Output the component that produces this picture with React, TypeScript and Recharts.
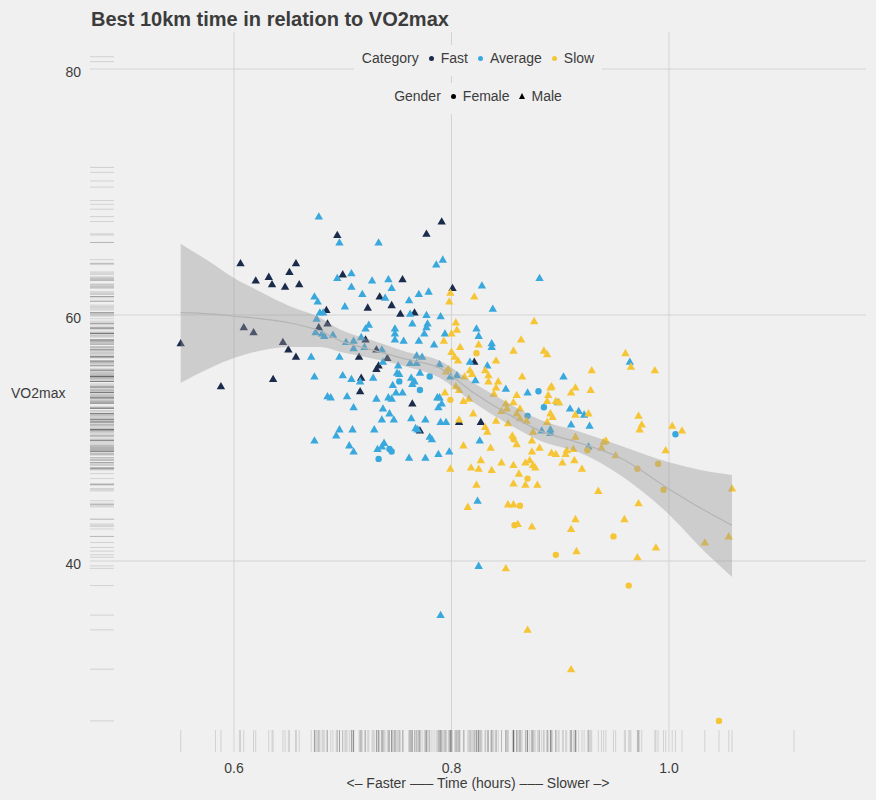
import { ComposedChart, Scatter, Area, Line, XAxis, YAxis, ReferenceLine } from "recharts";

// category / gender series: [time in hours, VO2max]
const fastMaleTime = [0.606, 0.657, 0.651, 0.620, 0.632, 0.635, 0.647, 0.660, 0.695, 0.700, 0.723, 0.685, 0.686, 0.678, 0.609, 0.618, 0.551, 0.645, 0.650, 0.657, 0.721, 0.715, 0.717, 0.636, 0.588, 0.716, 0.791, 0.777, 0.755, 0.734, 0.745, 0.801, 0.753, 0.766, 0.731, 0.741, 0.733, 0.731, 0.821, 0.764, 0.771, 0.807, 0.827];
const fastMaleVo2 = [64.2, 64.2, 63.5, 62.8, 63.1, 62.5, 62.3, 62.5, 66.5, 63.3, 60.6, 60.4, 59.3, 59.0, 59.0, 58.6, 57.7, 57.8, 57.2, 56.6, 58.0, 56.6, 54.9, 54.8, 54.2, 53.8, 67.6, 66.6, 62.9, 61.5, 60.8, 62.2, 60.1, 60.2, 57.2, 56.5, 55.9, 55.6, 56.2, 52.8, 50.6, 51.3, 51.3];

const avgMaleTime = [0.678, 0.697, 0.708, 0.695, 0.708, 0.718, 0.674, 0.677, 0.702, 0.679, 0.682, 0.676, 0.675, 0.681, 0.683, 0.691, 0.721, 0.724, 0.671, 0.697, 0.703, 0.710, 0.710, 0.717, 0.720, 0.674, 0.700, 0.708,
  0.686, 0.689, 0.704, 0.716, 0.710, 0.697, 0.709, 0.694, 0.674, 0.706, 0.710,
  0.733, 0.792, 0.786, 0.881, 0.727, 0.742, 0.745, 0.739, 0.761, 0.770, 0.779, 0.828, 0.838, 0.762, 0.777, 0.790, 0.764, 0.778, 0.777, 0.748, 0.748, 0.748, 0.775, 0.756, 0.770, 0.784, 0.794, 0.823, 0.825, 0.837, 0.837, 0.817, 0.833, 0.903, 0.736, 0.737, 0.768, 0.773, 0.762, 0.768, 0.751, 0.789, 0.750, 0.752, 0.771, 0.763, 0.728, 0.799, 0.805, 0.822,
  0.964, 0.746, 0.764, 0.766, 0.749, 0.755, 0.731, 0.742, 0.745, 0.787, 0.789, 0.791, 0.788, 0.737, 0.743, 0.736, 0.747, 0.763, 0.776, 0.790, 0.795, 0.729, 0.767, 0.769, 0.780, 0.782, 0.738, 0.736, 0.732, 0.761, 0.776, 0.788, 0.798, 0.826, 0.870, 0.850, 0.883, 0.891, 0.891, 0.824, 0.898,
  0.909, 0.917, 0.922, 0.927, 0.910, 0.926, 0.825, 0.790];
const avgMaleVo2 = [68.0, 65.9, 63.4, 63.0, 62.3, 61.7, 61.5, 61.1, 60.7, 60.2, 60.2, 59.7, 58.6, 58.5, 58.3, 58.4, 58.9, 59.2, 56.6, 56.6, 57.8, 57.9, 57.3, 58.2, 57.4, 55.0, 55.1, 54.8,
  53.4, 53.3, 53.4, 54.6, 52.5, 50.7, 50.7, 50.2, 49.8, 49.4, 48.9,
  65.9, 64.5, 64.1, 63.0, 62.8, 62.9, 62.2, 61.4, 61.2, 61.7, 61.9, 62.4, 60.5, 60.1, 60.0, 59.9, 59.3, 59.3, 59.0, 58.9, 58.5, 58.0, 58.5, 57.9, 57.9, 57.6, 58.5, 58.9, 58.3, 57.7, 57.4, 56.2, 55.9, 55.0, 57.2, 56.2, 56.7, 56.6, 56.1, 56.1, 55.9, 56.0, 55.3, 55.2, 55.3, 54.9, 54.9, 55.0, 55.1, 54.7,
  56.2, 54.3, 54.4, 54.6, 53.7, 53.7, 53.2, 53.3, 53.2, 53.3, 53.3, 52.8, 52.5, 52.4, 52.0, 51.5, 51.5, 51.6, 51.5, 51.3, 51.3, 50.7, 50.8, 50.7, 50.1, 49.9, 49.6, 49.3, 49.1, 48.4, 48.4, 48.7, 48.9, 49.8, 53.7, 54.0, 50.6, 50.7, 50.4, 44.9, 52.9,
  52.4, 52.2, 51.9, 51.0, 51.1, 49.3, 39.6, 35.6];

const avgFemaleTime = [0.752, 0.771, 0.743, 0.745, 0.733, 0.780, 0.880, 0.885, 0.870, 1.006];
const avgFemaleVo2 = [54.6, 53.9, 49.1, 48.9, 48.3, 55.0, 53.8, 52.5, 51.8, 50.3];

const slowMaleTime = [0.799, 0.798, 0.821, 0.876, 0.804, 0.805, 0.800, 0.793, 0.808, 0.825, 0.864, 0.857, 0.885, 0.888, 0.800, 0.803, 0.806, 0.841, 0.831, 0.834, 0.817, 0.819, 0.865, 0.795, 0.797, 0.812,
  0.960, 0.965, 0.929, 0.987,
  0.794, 0.804, 0.807, 0.811, 0.816, 0.820, 0.807, 0.831, 0.833, 0.834, 0.843, 0.841, 0.839, 0.850, 0.851, 0.857, 0.860, 0.863, 0.846, 0.860, 0.863, 0.869, 0.852, 0.841, 0.891, 0.892, 0.889, 0.888, 0.896, 0.899, 0.891, 0.893, 0.888, 0.875, 0.856, 0.874, 0.860, 0.881, 0.811, 0.836, 0.874, 0.892, 0.896, 0.905, 0.906, 0.902, 0.827, 0.799, 0.818, 0.825, 0.837, 0.846, 0.857, 0.868, 0.872, 0.875, 0.877, 0.862, 0.823, 0.857, 0.868, 0.879, 0.815, 0.852, 0.857, 0.861, 0.874,
  0.914, 0.910, 0.928, 0.914, 0.926, 0.972, 0.975, 0.973, 1.003, 1.012, 0.914, 0.912, 0.938, 0.940, 0.942, 0.951, 0.913, 0.920, 0.997, 1.058, 0.935, 0.972, 0.914, 0.910, 0.959, 1.055, 1.033, 0.915, 0.988, 0.971,
  0.850, 0.870, 0.910];
const slowMaleVo2 = [61.8, 61.1, 61.5, 59.5, 59.4, 58.8, 58.5, 57.9, 57.4, 57.6, 58.0, 57.1, 57.1, 56.8, 57.0, 56.6, 56.3, 56.3, 55.5, 55.1, 55.5, 55.2, 55.0, 55.4, 55.6, 55.0,
  56.9, 55.8, 55.5, 55.5,
  53.7, 54.2, 53.9, 53.0, 53.2, 52.0, 51.5, 50.9, 50.5, 54.6, 54.6, 54.1, 53.6, 52.8, 52.4, 52.9, 53.5, 52.4, 52.2, 52.0, 51.6, 51.4, 51.2, 51.4, 54.1, 54.2, 53.5, 53.0, 53.0, 52.9, 52.0, 51.7, 51.3, 50.5, 50.2, 49.8, 49.5, 49.2, 49.4, 49.2, 48.9, 48.8, 48.7, 48.7, 49.0, 48.0, 48.2, 47.5, 47.6, 47.5, 47.4, 48.0, 47.8, 48.0, 48.2, 47.8, 47.6, 47.1, 46.2, 46.3, 46.2, 46.2, 44.4, 44.6, 44.6, 43.0, 42.8,
  54.1, 53.7, 53.9, 51.9, 52.0, 51.8, 51.1, 50.7, 51.0, 50.6, 50.1, 49.1, 49.2, 49.7, 49.8, 48.6, 48.2, 47.5, 49.0, 45.9, 45.7, 44.7, 43.4, 42.6, 43.4, 42.0, 41.5, 40.8, 41.1, 40.3,
  39.4, 34.4, 31.2];

const slowFemaleTime = [0.823, 0.799, 0.857, 0.870, 0.863, 0.858, 0.896, 0.925, 0.990, 0.971, 0.995, 0.949, 0.963, 1.046];
const slowFemaleVo2 = [56.9, 53.1, 49.9, 46.7, 44.5, 42.9, 40.5, 49.0, 47.9, 47.5, 45.8, 42.0, 38.0, 27.0];

// loess fit with confidence band
const smoothTime = [0.551, 0.578, 0.6, 0.624, 0.652, 0.679, 0.698, 0.725, 0.759, 0.789, 0.82, 0.851, 0.881, 0.918, 0.955, 1.001, 1.029, 1.058];
const smoothFit = [60.2, 60.1, 59.9, 59.7, 59.35, 58.7, 57.9, 57.2, 56.4, 55.7, 53.7, 52.0, 50.6, 49.6, 48.4, 45.8, 44.3, 42.9];
const smoothLow = [54.5, 55.7, 56.5, 57.1, 57.4, 57.4, 57.0, 56.5, 55.8, 54.9, 52.9, 51.2, 49.8, 48.8, 47.0, 43.7, 41.1, 38.7];
const smoothHigh = [65.8, 64.3, 63.0, 61.9, 60.7, 59.8, 58.8, 58.0, 57.0, 56.3, 54.5, 52.9, 51.5, 50.5, 49.4, 48.0, 47.4, 47.0];

// rug marks for observations not drawn as points
const extraRugTime = [1.115, 0.583, 0.605];
const extraRugVo2 = [81.0, 80.6, 72.0, 71.6, 70.9, 70.4, 69.3, 69.0, 68.6];

const xTicks = [0.6, 0.8, 1.0];
const yTicks = [40, 60, 80];

const X_MIN = 0.4676;
const X_MAX = 1.1812;
const Y_MIN = 24.47;
const Y_MAX = 83.01;

const NAVY = "#1b2b4b";
const BLUE = "#39a8dd";
const YELLOW = "#f6c536";
const TEXT = "#3c3c3c";
const GRID = "#d3d3d3";
const FONT = "'Liberation Sans', Arial, Helvetica, sans-serif";

const zip = (xs: number[], ys: number[]) => xs.map((x, i) => ({ x, y: ys[i] }));

const smoothRows = smoothTime.map((x, i) => ({ x, fit: smoothFit[i], band: [smoothLow[i], smoothHigh[i]] }));

const allTime = [...fastMaleTime, ...avgMaleTime, ...avgFemaleTime, ...slowMaleTime, ...slowFemaleTime, ...extraRugTime];
const allVo2 = [...fastMaleVo2, ...avgMaleVo2, ...avgFemaleVo2, ...slowMaleVo2, ...slowFemaleVo2, ...extraRugVo2];
const bottomRug = allTime.map((x) => ({ x, y: Y_MIN }));
const leftRug = allVo2.map((y) => ({ x: X_MIN, y }));

const Triangle = (props: any) => {
  const { cx, cy, fill } = props;
  return <path d={`M${cx},${cy - 4.3}L${cx + 4.2},${cy + 3}L${cx - 4.2},${cy + 3}Z`} fill={fill} />;
};
const Dot = (props: any) => <circle cx={props.cx} cy={props.cy} r={3.2} fill={props.fill} />;
const RugX = (props: any) => (
  <line x1={props.cx} x2={props.cx} y1={props.cy - 22} y2={props.cy} stroke="#000" strokeOpacity={0.13} />
);
const RugY = (props: any) => (
  <line x1={props.cx} x2={props.cx + 24} y1={props.cy} y2={props.cy} stroke="#000" strokeOpacity={0.13} />
);

const YTick = (props: any) => (
  <text x={props.x} y={props.y + 3} dy="0.355em" textAnchor="end" fill={TEXT} fontSize={14} fontFamily={FONT}>
    {props.payload.value}
  </text>
);

const legendDot = (c: string) => (
  <span style={{ display: "inline-block", width: 5, height: 5, borderRadius: 3, background: c, margin: "0 7px 2px 10px", verticalAlign: "middle" }} />
);

export default function App() {
  return (
    <div style={{ position: "absolute", left: 0, top: 0, width: 876, height: 800, background: "#f0f0f0", fontFamily: FONT, color: TEXT }}>
      <div style={{ position: "absolute", left: 91, top: 8, fontSize: 20, fontWeight: "bold" }}>Best 10km time in relation to VO2max</div>
      <ComposedChart width={876} height={800} data={smoothRows} margin={{ top: 32, right: 10, bottom: 18, left: 8 }}>
        {xTicks.map((t) => (
          <ReferenceLine key={`vx${t}`} x={t} stroke={GRID} strokeWidth={1} />
        ))}
        {yTicks.map((t) => (
          <ReferenceLine key={`hy${t}`} y={t} stroke={GRID} strokeWidth={1} />
        ))}
        <XAxis type="number" dataKey="x" domain={[X_MIN, X_MAX]} ticks={xTicks} allowDataOverflow axisLine={false} tickLine={false} tickSize={0} tickMargin={11} height={30}
          tickFormatter={(v: number) => v.toFixed(1)} tick={{ fill: TEXT, fontSize: 14, fontFamily: FONT }} />
        <YAxis type="number" dataKey="y" domain={[Y_MIN, Y_MAX]} ticks={yTicks} allowDataOverflow axisLine={false} tickLine={false} tickSize={0} tickMargin={9} width={82} tick={<YTick />} />
        <Scatter data={leftRug} shape={<RugY />} isAnimationActive={false} />
        <Scatter data={bottomRug} shape={<RugX />} isAnimationActive={false} />
        <Scatter data={zip(fastMaleTime, fastMaleVo2)} fill={NAVY} shape={<Triangle />} isAnimationActive={false} />
        <Scatter data={zip(avgMaleTime, avgMaleVo2)} fill={BLUE} shape={<Triangle />} isAnimationActive={false} />
        <Scatter data={zip(avgFemaleTime, avgFemaleVo2)} fill={BLUE} shape={<Dot />} isAnimationActive={false} />
        <Scatter data={zip(slowMaleTime, slowMaleVo2)} fill={YELLOW} shape={<Triangle />} isAnimationActive={false} />
        <Scatter data={zip(slowFemaleTime, slowFemaleVo2)} fill={YELLOW} shape={<Dot />} isAnimationActive={false} />
        <Area dataKey="band" type="monotone" fill="#999999" fillOpacity={0.4} stroke="none" isAnimationActive={false} zIndex={700} />
        <Line dataKey="fit" type="monotone" stroke="#b4b4b4" strokeWidth={1.2} dot={false} isAnimationActive={false} zIndex={700} />
      </ComposedChart>
      <div style={{ position: "absolute", left: 8, width: 940, top: 50, textAlign: "center", fontSize: 14 }}>
        <span style={{ background: "#f0f0f0", padding: "5px 8px 10px" }}>
          Category{legendDot(NAVY)}Fast{legendDot(BLUE)}Average{legendDot(YELLOW)}Slow
        </span>
      </div>
      <div style={{ position: "absolute", left: 8, width: 940, top: 88, textAlign: "center", fontSize: 14 }}>
        <span style={{ background: "#f0f0f0", padding: "5px 8px 10px" }}>
          Gender{legendDot("#000")}Female
          <span style={{ display: "inline-block", width: 0, height: 0, borderLeft: "3.5px solid transparent", borderRight: "3.5px solid transparent", borderBottom: "6px solid #000", margin: "0 7px 3px 9px", verticalAlign: "middle" }} />
          Male
        </span>
      </div>
      <div style={{ position: "absolute", left: 11, top: 385, fontSize: 14 }}>VO2max</div>
      <div style={{ position: "absolute", left: 90, width: 776, top: 775, textAlign: "center", fontSize: 14 }}>{"<– Faster ––– Time (hours) ––– Slower –>"}</div>
    </div>
  );
}
